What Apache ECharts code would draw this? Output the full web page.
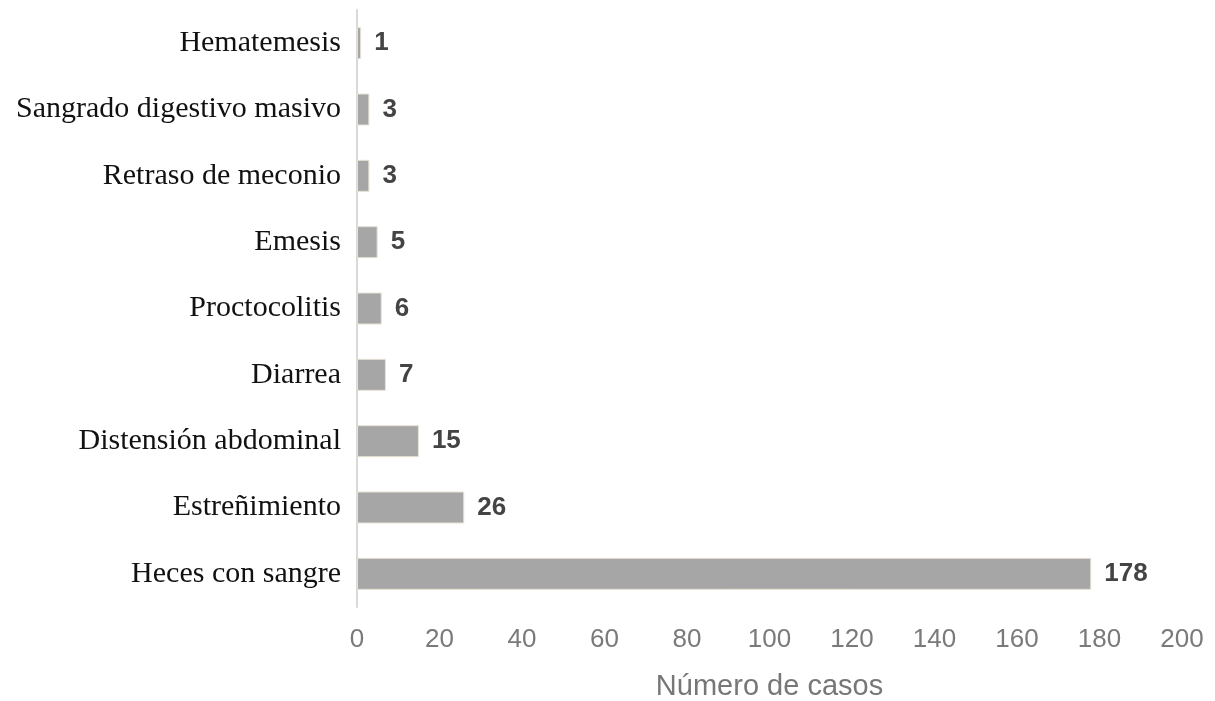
<!DOCTYPE html>
<html><head><meta charset="utf-8">
<script src="https://cdn.jsdelivr.net/npm/echarts@6/dist/echarts.min.js"></script>
<style>html,body{margin:0;padding:0;background:#fff}#c{width:1215px;height:701px}</style>
</head><body><div id="c"></div>
<script>
const categories = ["Heces con sangre","Estreñimiento","Distensión abdominal","Diarrea","Proctocolitis","Emesis","Retraso de meconio","Sangrado digestivo masivo","Hematemesis"];
const values = [178,26,15,7,6,5,3,3,1];
const xTicks = [0,20,40,60,80,100,120,140,160,180,200];
const chart = echarts.init(document.getElementById('c'));
chart.setOption({
  animation:false,
  grid:{left:357,right:33,top:10,bottom:94,containLabel:false,outerBoundsMode:'none'},
  xAxis:{type:'value',min:xTicks[0],max:xTicks[xTicks.length-1],interval:20,
    name:'Número de casos',nameLocation:'middle',nameGap:65,
    nameTextStyle:{fontFamily:'Liberation Sans',fontSize:29,color:'#777'},
    axisLine:{show:false},axisTick:{show:false},splitLine:{show:false},
    axisLabel:{fontFamily:'Liberation Sans',fontSize:26,color:'#7a7a7a',margin:20}},
  yAxis:{type:'category',data:categories,
    axisLine:{show:true,lineStyle:{color:'#d9d9d9',width:2}},axisTick:{show:false},
    axisLabel:{fontFamily:'Liberation Serif',fontSize:30,color:'#111',margin:16}},
  series:[{type:'bar',data:values,barWidth:32,
    itemStyle:{color:'#a6a6a6',borderColor:'#e8e2d4',borderWidth:1},
    label:{show:true,position:'right',distance:13,fontFamily:'Liberation Sans',fontWeight:'bold',fontSize:26,color:'#444'}}]
});
</script></body></html>
